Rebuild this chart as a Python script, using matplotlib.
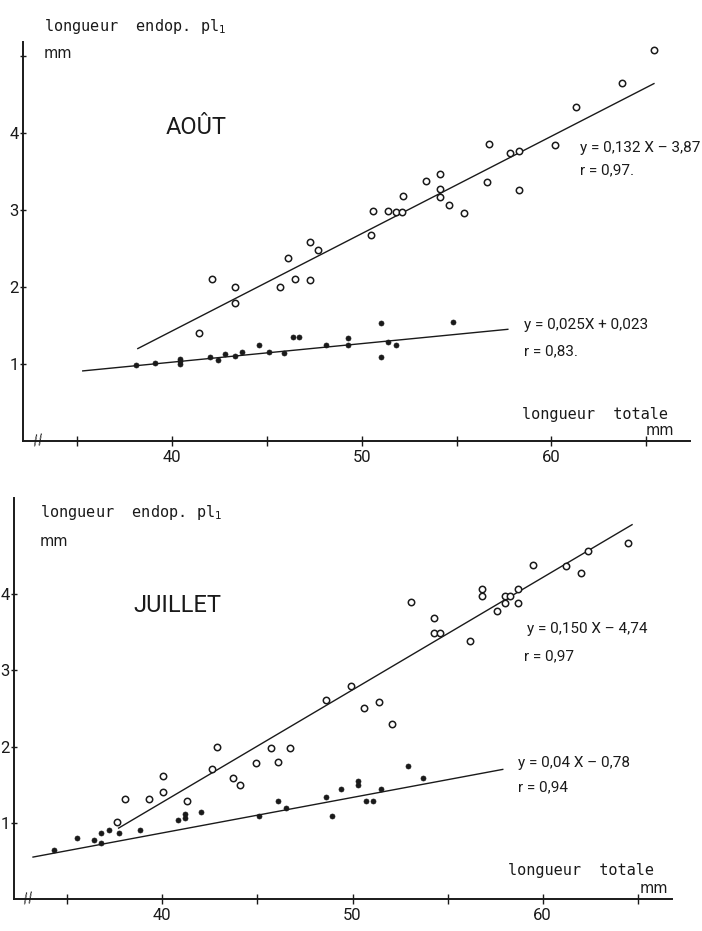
import matplotlib
matplotlib.use('Agg')
import matplotlib.pyplot as plt

plt.rcParams['font.family'] = ['Roboto', 'DejaVu Sans']

# ---------------- AOÛT ----------------
aout_open_x = [41.4, 42.1, 43.3, 43.3, 45.7, 46.1, 46.5, 47.3, 47.7, 47.3,
               50.5, 50.6, 51.4, 51.8, 52.1, 52.2, 53.4, 54.1, 54.1, 54.1,
               54.6, 55.4, 56.7, 56.6, 57.8, 58.3, 58.3, 60.2, 61.3, 63.7, 65.4]
aout_open_y = [1.40, 2.10, 2.00, 1.79, 2.00, 2.38, 2.10, 2.58, 2.48, 2.09,
               2.68, 2.98, 2.98, 2.97, 2.97, 3.18, 3.37, 3.47, 3.27, 3.17,
               3.06, 2.96, 3.85, 3.36, 3.74, 3.76, 3.26, 3.84, 4.33, 4.65, 5.08]
aout_fill_x = [38.1, 39.1, 40.4, 40.4, 40.4, 42.0, 42.4, 42.8, 43.3, 43.7,
               44.6, 45.1, 45.9, 46.4, 46.7, 48.1, 49.3, 49.3, 51.0, 51.4,
               51.8, 51.0, 54.8]
aout_fill_y = [0.99, 1.01, 1.07, 1.04, 1.00, 1.09, 1.05, 1.13, 1.10, 1.16,
               1.24, 1.15, 1.14, 1.35, 1.35, 1.24, 1.34, 1.24, 1.53, 1.29,
               1.24, 1.09, 1.54]
aout_open_fit_x = [38.2, 65.4]
aout_open_fit_y = [1.20, 4.64]
aout_fill_fit_x = [35.3, 57.7]
aout_fill_fit_y = [0.91, 1.45]

# ---------------- JUILLET ----------------
juil_open_x = [37.6, 38.05, 39.3, 40.05, 40.05, 41.3, 42.6, 42.9, 43.7, 44.1,
               44.9, 45.7, 46.1, 46.7, 48.6, 49.9, 50.6, 51.4, 52.1, 53.05,
               54.3, 54.3, 54.6, 56.2, 56.8, 56.8, 57.6, 58.0, 58.0, 58.3,
               58.7, 58.7, 59.5, 61.2, 62.0, 62.4, 64.5]
juil_open_y = [1.01, 1.31, 1.31, 1.61, 1.40, 1.29, 1.70, 2.00, 1.59, 1.49,
               1.78, 1.98, 1.80, 1.98, 2.61, 2.80, 2.50, 2.59, 2.29, 3.90,
               3.69, 3.49, 3.49, 3.38, 4.07, 3.97, 3.78, 3.88, 3.98, 3.97,
               4.07, 3.88, 4.38, 4.37, 4.27, 4.57, 4.67]
juil_fill_x = [34.3, 35.5, 36.4, 36.8, 36.8, 37.2, 37.7, 38.8, 40.8, 41.2,
               41.2, 42.05, 45.1, 46.1, 46.5, 48.6, 48.9, 49.4, 50.3, 50.3,
               50.7, 51.1, 51.5, 52.9, 53.7]
juil_fill_y = [0.64, 0.80, 0.77, 0.86, 0.74, 0.90, 0.86, 0.90, 1.03, 1.11,
               1.06, 1.14, 1.09, 1.29, 1.19, 1.34, 1.09, 1.44, 1.55, 1.49,
               1.29, 1.29, 1.44, 1.74, 1.59]
juil_open_fit_x = [37.7, 64.7]
juil_open_fit_y = [0.93, 4.91]
juil_fill_fit_x = [33.2, 57.9]
juil_fill_fit_y = [0.55, 1.70]

x_major = [40, 50, 60]
x_minor = [35, 45, 55, 65]
y_ticks_top = [1, 2, 3, 4, 5]
y_labels_top = ['1', '2', '3', '4', '']
y_ticks_bot = [1, 2, 3, 4]
y_labels_bot = ['1', '2', '3', '4']

INK = '#1a1a1a'
W, H = 702, 931
fig = plt.figure(figsize=(W / 100, H / 100), dpi=100)
fig.patch.set_facecolor('white')


def fx(x):
    return x / W


def fy(y):
    return 1 - y / H


def style(ax, xlim, ylim, yt, yl):
    ax.set_xlim(*xlim)
    ax.set_ylim(*ylim)
    for s in ['top', 'right']:
        ax.spines[s].set_visible(False)
    for s in ['left', 'bottom']:
        ax.spines[s].set_linewidth(1.4)
        ax.spines[s].set_color(INK)
    ax.set_xticks(x_major)
    ax.set_xticklabels([str(v) for v in x_major])
    ax.set_xticks(x_minor, minor=True)
    ax.set_yticks(yt)
    ax.set_yticklabels(yl)
    ax.tick_params(axis='x', which='both', direction='inout', length=7,
                   width=1.0, color=INK, labelsize=12, pad=3, labelcolor=INK)
    ax.tick_params(axis='y', which='both', direction='inout', length=5,
                   width=1.0, color=INK, labelsize=12, pad=0.5, labelcolor=INK)
    ax.set_facecolor('white')
    # axis break mark
    ax.text(33.0, 0, '//', ha='center', va='center', fontsize=10,
            color=INK, clip_on=False, rotation=10)


def draw(ax, ox, oy, fxx, fyy, ofx, ofy, ffx, ffy):
    ax.plot(ofx, ofy, color=INK, lw=1.0)
    ax.plot(ffx, ffy, color=INK, lw=1.0)
    ax.plot(ox, oy, linestyle='none', marker='o', ms=4.6,
            mfc='white', mec=INK, mew=1.1, zorder=3)
    ax.plot(fxx, fyy, linestyle='none', marker='o', ms=3.6,
            mfc=INK, mec=INK, mew=0.5, zorder=3)


# top panel
ax1 = fig.add_axes([fx(23), fy(441), (690 - 23) / W, (441 - 42) / H])
style(ax1, (32.15, 67.3), (0, 5.18), y_ticks_top, y_labels_top)
draw(ax1, aout_open_x, aout_open_y, aout_fill_x, aout_fill_y,
     aout_open_fit_x, aout_open_fit_y, aout_fill_fit_x, aout_fill_fit_y)

# bottom panel
ax2 = fig.add_axes([fx(14), fy(899), (672 - 14) / W, (899 - 498) / H])
style(ax2, (32.2, 66.8), (0, 5.26), y_ticks_bot, y_labels_bot)
draw(ax2, juil_open_x, juil_open_y, juil_fill_x, juil_fill_y,
     juil_open_fit_x, juil_open_fit_y, juil_fill_fit_x, juil_fill_fit_y)

MONO = ['DejaVu Sans Mono']
lab = dict(color=INK, fontsize=11, family=MONO)
mm = dict(color=INK, fontsize=10.5, family=['DejaVu Sans'])
eq = dict(color=INK, fontsize=11)

# top texts
fig.text(fx(44), fy(26), r'longueur  endop. pl$_1$', va='center', ha='left', **lab)
fig.text(fx(44), fy(53), 'mm', va='center', ha='left', **mm)
fig.text(fx(166), fy(127), 'AOÛT', va='center', ha='left', color=INK, fontsize=17)
fig.text(fx(580), fy(148), 'y = 0,132 X – 3,87', va='center', ha='left', **eq)
fig.text(fx(580), fy(170), 'r = 0,97.', va='center', ha='left', **eq)
fig.text(fx(524), fy(325), 'y = 0,025X + 0,023', va='center', ha='left', **eq)
fig.text(fx(524), fy(351), 'r = 0,83.', va='center', ha='left', **eq)
fig.text(fx(522), fy(414), 'longueur  totale', va='center', ha='left', **lab)
fig.text(fx(674), fy(438), 'mm', va='bottom', ha='right', **mm)

# bottom texts
fig.text(fx(40), fy(512), r'longueur  endop. pl$_1$', va='center', ha='left', **lab)
fig.text(fx(40), fy(541), 'mm', va='center', ha='left', **mm)
fig.text(fx(133), fy(605), 'JUILLET', va='center', ha='left', color=INK, fontsize=17)
fig.text(fx(527), fy(629), 'y = 0,150 X – 4,74', va='center', ha='left', **eq)
fig.text(fx(524), fy(656), 'r = 0,97', va='center', ha='left', **eq)
fig.text(fx(518), fy(763), 'y = 0,04 X – 0,78', va='center', ha='left', **eq)
fig.text(fx(518), fy(787), 'r = 0,94', va='center', ha='left', **eq)
fig.text(fx(508), fy(871), 'longueur  totale', va='center', ha='left', **lab)
fig.text(fx(668), fy(896), 'mm', va='bottom', ha='right', **mm)

fig.savefig('out.png', dpi=100, facecolor='white')
